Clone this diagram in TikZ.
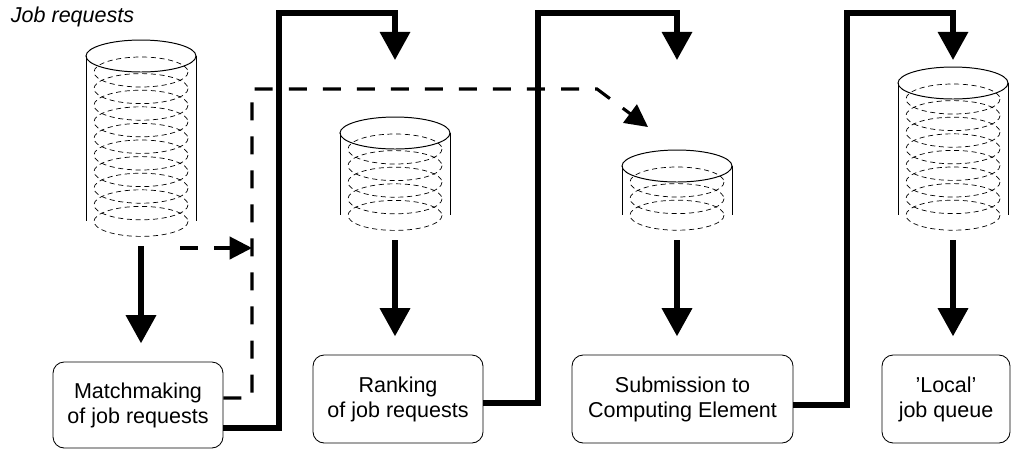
\documentclass[tikz,border=0pt]{standalone}
\usepackage{fontspec}
\setmainfont{Liberation Sans}
\usetikzlibrary{arrows.meta,calc}
\tikzset{
  stackline/.style={line width=0.7pt},
  ringline/.style={line width=0.5pt, dash pattern=on 3.6pt off 2.6pt},
  stage/.style={draw, line width=0.6pt, rounded corners=8pt, align=center,
    font=\fontsize{15.3}{17.8}\selectfont, minimum height=2.2cm},
  flow/.style={line width=3.6pt, -{Triangle[length=20pt,width=21pt]}},
  hint/.style={line width=2.2pt, dash pattern=on 12.8pt off 11.4pt,
    -{Triangle[length=16pt,width=16pt]}},
}
% #1 centre x, #2 top y, #3 rings, #4 name
\newcommand{\jobstack}[4]{%
  \draw[stackline] (#1,#2) ellipse [x radius=55, y radius=16];
  \draw[stackline] (#1-55,#2) -- (#1-55,{#2+16+16.6*(#3-1)});
  \draw[stackline] (#1+55,#2) -- (#1+55,{#2+16+16.6*(#3-1)});
  \foreach \k in {1,...,#3}
    \draw[ringline] (#1,{#2+16+16.6*(\k-1)}) ellipse [x radius=47, y radius=15];
  \coordinate (#4-out) at (#1,{#2+16+16.6*(#3-1)+25});
}
\begin{document}
\begin{tikzpicture}[x=0.025cm, y=-0.025cm]
  \useasboundingbox (0,0) rectangle (1016,450);

  \node[anchor=base west, font=\fontsize{15.3}{17.8}\selectfont\itshape] (label) at (6,22) {Job requests};

  \jobstack{141}{56}{10}{queue1}
  \jobstack{395}{133}{5}{queue2}
  \jobstack{677}{166}{3}{queue3}
  \jobstack{953}{83}{8}{queue4}

  \node[stage, minimum width=4.25cm, minimum height=2.15cm] (match) at (138,405) {Matchmaking\\of job requests};
  \node[stage, minimum width=4.25cm] (rank) at (398,399) {Ranking\\of job requests};
  \node[stage, minimum width=5.525cm] (submit) at (682.5,399) {Submission to\\Computing Element};
  \node[stage, minimum width=3.2cm] (local) at (946,399) {'Local'\\job queue};

  \coordinate (run1) at (279,13);
  \coordinate (run2) at (538,13);
  \coordinate (run3) at (847,13);
  \coordinate (top2) at (395,60);
  \coordinate (top3) at (677,60);
  \coordinate (top4) at (953,60);
  \coordinate (wait) at (180,248);
  \coordinate (gate) at (252,248);
  \coordinate (hint0) at (252,89);
  \coordinate (bend) at (597,89);
  \coordinate (hint3) at (648,127);

  \begin{scope}[shorten >=13pt]
    \draw[flow] (queue1-out) -- (queue1-out |- match.north);
    \draw[flow] (queue2-out) -- (queue2-out |- rank.north);
    \draw[flow] (queue3-out) -- (queue3-out |- submit.north);
    \draw[flow] (queue4-out) -- (queue4-out |- local.north);
  \end{scope}

  \draw[flow] ($(match.east)+(0,23)$) -| (run1) -| (top2);
  \draw[flow] ($(rank.east)+(0,4)$) -| (run2) -| (top3);
  \draw[flow] ($(submit.east)+(0,6)$) -| (run3) -| (top4);

  \draw[hint] (wait) -- (gate);
  \draw[hint] ($(match.east)+(0,-7)$) -| (hint0) -- (bend) -- (hint3);
\end{tikzpicture}
\end{document}
